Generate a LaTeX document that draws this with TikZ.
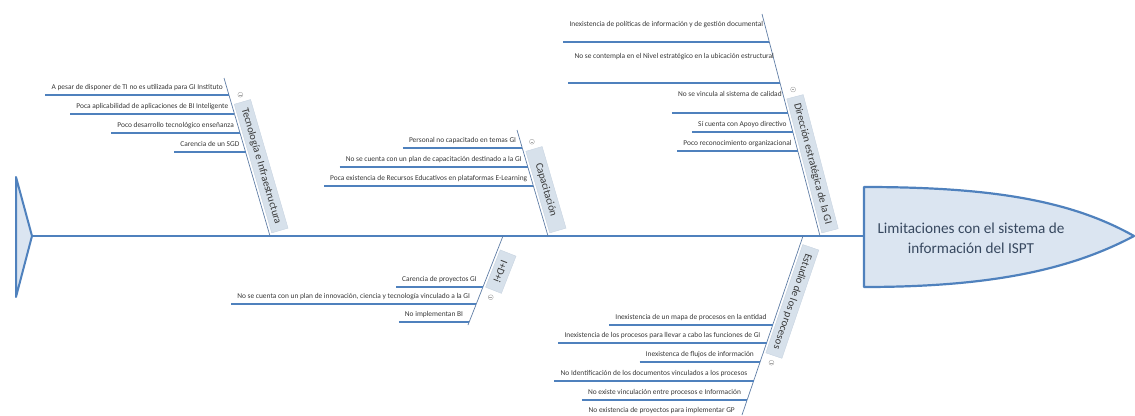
\documentclass[tikz,border=0pt]{standalone}
\usepackage{fontspec}
\setmainfont{Carlito}
\usetikzlibrary{calc}
\definecolor{spinec}{RGB}{79,129,189}
\definecolor{subc}{RGB}{79,129,189}
\definecolor{bonec}{RGB}{95,125,165}
\definecolor{lblfill}{RGB}{215,225,235}
\definecolor{lbldraw}{RGB}{200,212,225}
\definecolor{headfill}{RGB}{219,229,241}
\definecolor{txtc}{RGB}{55,55,55}
\definecolor{headtxt}{RGB}{55,72,95}
\begin{document}
\begin{tikzpicture}[x=1pt,y=-1pt,
  spineline/.style={draw=spinec, line width=2.4pt},
  boneline/.style={draw=bonec, line width=0.7pt},
  subline/.style={draw=subc, line width=1.5pt},
  cause/.style={inner xsep=6pt, inner ysep=1.5pt, text depth=3.6pt,
    font=\fontsize{7.4}{9}\selectfont, text=txtc, anchor=south east},
  lbl/.style={fill=lblfill, draw=lbldraw, line width=0.4pt, inner xsep=7pt,
    inner ysep=3pt, minimum height=17pt, minimum width=40pt,
    font=\fontsize{10.6}{12}\selectfont, text=txtc, sloped, allow upside down, outer sep=2.5pt},
  tog/.style={circle, draw=gray!70, line width=0.4pt, minimum size=5pt, inner sep=0pt,
    path picture={\draw[gray!70, line width=0.4pt]
      ([xshift=1.2pt]path picture bounding box.west) -- ([xshift=-1.2pt]path picture bounding box.east);}}
]
\useasboundingbox (0,0) rectangle (1135,415);

% tail and head
\coordinate (tailtip) at (32,236);
\coordinate (headL) at (864,236);
\draw[draw=spinec, line width=2pt, fill=headfill, line join=round]
  (16,177) -- (tailtip) -- (16,297) -- cycle;
\draw[draw=spinec, line width=2.2pt, fill=headfill, line join=round]
  (864,187) .. controls (990,187) and (1070,200) .. (1134,236)
  .. controls (1070,270) and (990,287) .. (864,287) -- cycle;
\node[font=\fontsize{15.2}{20}\selectfont, text=headtxt, align=center] (head) at (971,238)
  {Limitaciones con el sistema de\\información del ISPT};
\draw[spineline] (tailtip) -- (headL);

% bones
\coordinate (S1) at (270,236); \coordinate (F1) at (224,78);
\coordinate (S2) at (548,236); \coordinate (F2) at (517,130);
\coordinate (S3) at (820,236); \coordinate (F3) at (762,14);
\coordinate (S4) at (503,236); \coordinate (F4) at (468,325);
\coordinate (S5) at (803,236); \coordinate (F5) at (742,415);
\foreach \i in {1,...,5} {\draw[boneline] (S\i) -- (F\i);}

% labels
\path (F1) -- (S1) node[lbl, pos=1, anchor=south east] (L1) {Tecnología e Infraestructura};
\path (F2) -- (S2) node[lbl, pos=1, anchor=south east, minimum width=85pt] (L2) {Capacitación};
\path (F3) -- (S3) node[lbl, pos=1, anchor=south east] (L3) {Dirección estratégica de la GI};
\path (S4) -- (F4) node[lbl, pos=0.12, anchor=south west] (L4) {I+D+i};
\path (S5) -- (F5) node[lbl, pos=0.03, anchor=south west] (L5) {Estudio de los procesos};
\node[tog] (T1) at ($(L1.west)!-5pt!(L1.east)$) {};
\node[tog] (T2) at ($(L2.west)!-5pt!(L2.east)$) {};
\node[tog] (T3) at ($(L3.west)!-5pt!(L3.east)$) {};
\node[tog] (T4) at ($(L4.east)!-5pt!(L4.west)$) {};
\node[tog] (T5) at ($(L5.east)!-5pt!(L5.west)$) {};

% causes bone 1
\coordinate (a11) at ($(S1)!{(236-95)/158}!(F1)$);
\coordinate (a12) at ($(S1)!{(236-114)/158}!(F1)$);
\coordinate (a13) at ($(S1)!{(236-133)/158}!(F1)$);
\coordinate (a14) at ($(S1)!{(236-152)/158}!(F1)$);
\node[cause] (c11) at (a11) {A pesar de disponer de TI no es utilizada para GI Instituto};
\node[cause] (c12) at (a12) {Poca aplicabilidad de aplicaciones de BI Inteligente};
\node[cause] (c13) at (a13) {Poco desarrollo tecnológico enseñanza};
\node[cause] (c14) at (a14) {Carencia de un SGD};
\foreach \j in {1,...,4} {\draw[subline] (c1\j.south west) -- (a1\j);}

% causes bone 2
\coordinate (a21) at ($(S2)!{(236-148)/106}!(F2)$);
\coordinate (a22) at ($(S2)!{(236-167)/106}!(F2)$);
\coordinate (a23) at ($(S2)!{(236-186)/106}!(F2)$);
\node[cause] (c21) at (a21) {Personal no capacitado en temas GI};
\node[cause] (c22) at (a22) {No se cuenta con un plan de capacitación destinado a la GI};
\node[cause] (c23) at (a23) {Poca existencia de Recursos Educativos en plataformas E-Learning};
\foreach \j in {1,...,3} {\draw[subline] (c2\j.south west) -- (a2\j);}

% causes bone 3
\coordinate (a31) at ($(S3)!{(236-42)/222}!(F3)$);
\coordinate (a32) at ($(S3)!{(236-83)/222}!(F3)$);
\coordinate (a33) at ($(S3)!{(236-113)/222}!(F3)$);
\coordinate (a34) at ($(S3)!{(236-132)/222}!(F3)$);
\coordinate (a35) at ($(S3)!{(236-151)/222}!(F3)$);
\node[cause, text depth=13.5pt] (c31) at (a31) {Inexistencia de políticas de información y de gestión documental};
\node[cause, text depth=22.5pt] (c32) at (a32) {No se contempla en el Nivel estratégico en la ubicación estructural};
\node[cause, text depth=14.5pt] (c33) at (a33) {No se vincula al sistema de calidad};
\node[cause] (c34) at (a34) {Sí cuenta con Apoyo directivo};
\node[cause] (c35) at (a35) {Poco reconocimiento organizacional};
\foreach \j in {1,...,5} {\draw[subline] (c3\j.south west) -- (a3\j);}

% causes bone 4
\coordinate (a41) at ($(S4)!{(287-236)/89}!(F4)$);
\coordinate (a42) at ($(S4)!{(304-236)/89}!(F4)$);
\coordinate (a43) at ($(S4)!{(322-236)/89}!(F4)$);
\node[cause] (c41) at (a41) {Carencia de proyectos GI};
\node[cause] (c42) at (a42) {No se cuenta con un plan de innovación, ciencia y tecnología vinculado a la GI};
\node[cause] (c43) at (a43) {No implementan BI};
\foreach \j in {1,...,3} {\draw[subline] (c4\j.south west) -- (a4\j);}

% causes bone 5
\coordinate (a51) at ($(S5)!{(325-236)/179}!(F5)$);
\coordinate (a52) at ($(S5)!{(343-236)/179}!(F5)$);
\coordinate (a53) at ($(S5)!{(362-236)/179}!(F5)$);
\coordinate (a54) at ($(S5)!{(381-236)/179}!(F5)$);
\coordinate (a55) at ($(S5)!{(400-236)/179}!(F5)$);
\coordinate (a56) at ($(S5)!{(418-236)/179}!(F5)$);
\node[cause] (c51) at (a51) {Inexistencia de un mapa de procesos en la entidad};
\node[cause] (c52) at (a52) {Inexistencia de los procesos para llevar a cabo las funciones de GI};
\node[cause] (c53) at (a53) {Inexistenca de flujos de información};
\node[cause] (c54) at (a54) {No Identificación de los documentos vinculados a los procesos};
\node[cause] (c55) at (a55) {No existe vinculación entre procesos e Información};
\node[cause] (c56) at (a56) {No existencia de proyectos para implementar GP};
\foreach \j in {1,...,6} {\draw[subline] (c5\j.south west) -- (a5\j);}
\end{tikzpicture}
\end{document}
